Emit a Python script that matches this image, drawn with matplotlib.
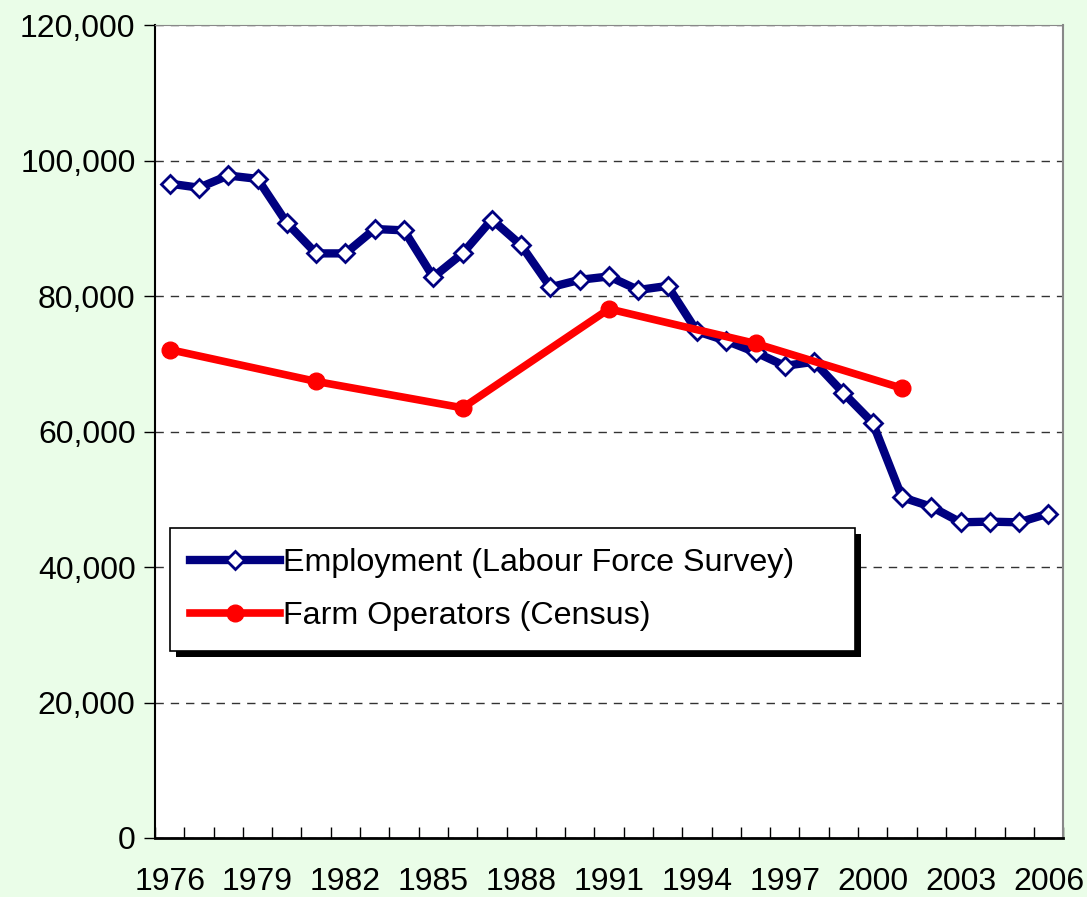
import matplotlib
matplotlib.use('Agg')
import matplotlib.pyplot as plt
from matplotlib.patches import Rectangle
from matplotlib.ticker import FuncFormatter, MultipleLocator, FixedLocator

plt.rcParams['font.family'] = ['Liberation Sans', 'DejaVu Sans']

# data
years = list(range(1976, 2007))
employment = [96600, 96000, 97800, 97300, 90800, 86300, 86300, 89900, 89700, 82800,
              86300, 91300, 87500, 81300, 82400, 82900, 80900, 81500, 74800, 73400,
              71700, 69700, 70300, 65700, 61300, 50300, 48900, 46600, 46700, 46600,
              47900]
census_years = [1976, 1981, 1986, 1991, 1996, 2001]
farm_operators = [72100, 67400, 63500, 78100, 73000, 66400]
tick_years = list(range(1976, 2007, 3))

bg = '#EAFDE8'
fig = plt.figure(figsize=(10.87, 8.97), dpi=100, facecolor=bg)
ax = fig.add_axes([0.1426, 0.0658, 0.8354, 0.9062])
ax.set_facecolor('white')

ax.plot(years, employment, color='#000080', lw=6, marker='D', ms=9,
        mfc='white', mec='#000080', mew=2, label='Employment (Labour Force Survey)', zorder=3)
ax.plot(census_years, farm_operators, color='#FF0000', lw=5.5, marker='o', ms=12,
        mfc='#FF0000', mec='#FF0000', label='Farm Operators (Census)', zorder=4)

ax.set_xlim(1975.5, 2006.5)
ax.set_ylim(0, 120000)
ax.yaxis.set_major_locator(MultipleLocator(20000))
ax.yaxis.set_major_formatter(FuncFormatter(lambda v, p: f'{int(v):,}'))
ax.set_xticks(tick_years)
ax.xaxis.set_minor_locator(FixedLocator([y + 0.5 for y in range(1975, 2007)]))
ax.tick_params(axis='x', which='major', length=0, labelsize=23, pad=21)
ax.tick_params(axis='x', which='minor', direction='in', length=8, width=1, color='black')
ax.tick_params(axis='y', direction='out', length=8, width=1, labelsize=23, pad=6)

ax.grid(axis='y', color='#333333', lw=1, ls=(0, (6, 5)))
ax.set_axisbelow(True)
ax.spines['left'].set_color('black')
ax.spines['left'].set_linewidth(1.5)
ax.spines['bottom'].set_color('black')
ax.spines['bottom'].set_linewidth(2)
ax.spines['top'].set_color('#888888')
ax.spines['right'].set_color('#888888')
ax.spines['right'].set_linewidth(1.5)

leg = ax.legend(loc='upper left', bbox_to_anchor=(0.0165, 0.381, 0.7545, 0.0),
                mode='expand', fontsize=23.2, frameon=True, fancybox=False,
                edgecolor='black', borderpad=0.62, labelspacing=0.7,
                handlelength=2.8, handletextpad=0.1, borderaxespad=0, framealpha=1)
leg.get_frame().set_linewidth(1.2)
leg.set_zorder(10)

# manual drop shadow behind legend
fig.canvas.draw()
bb = leg.get_window_extent()
shadow = Rectangle((bb.x0 + 6, bb.y0 - 6), bb.width, bb.height, transform=None,
                   facecolor='black', edgecolor='none', zorder=9)
ax.add_artist(shadow)

fig.savefig('out.png', dpi=100, facecolor=bg)
